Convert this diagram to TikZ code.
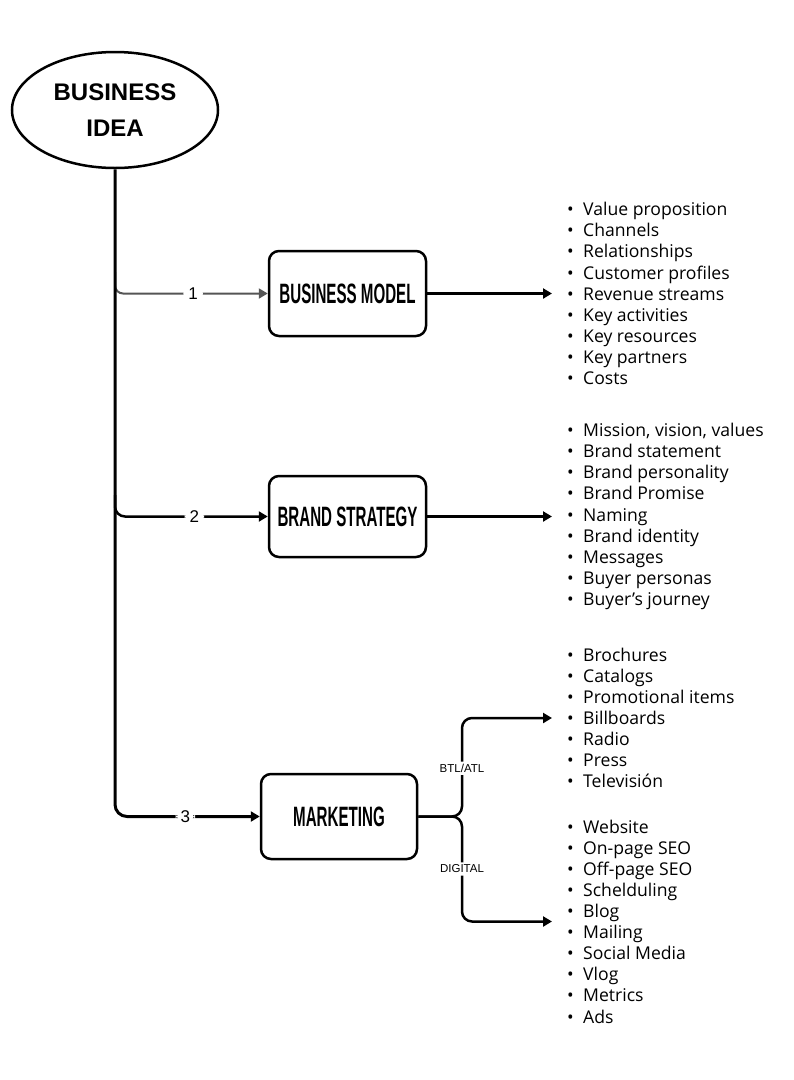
\documentclass[tikz,border=0pt]{standalone}
\usepackage{fontspec}
\setmainfont{Liberation Sans}
\newfontfamily\listfont{Open Sans}
\newfontfamily\boxfont[FakeStretch=0.54]{Liberation Sans}
\usetikzlibrary{arrows.meta,shapes.geometric}
\newcommand\itm[1]{\makebox[16pt][l]{•}#1}
\definecolor{branchgray}{HTML}{555555}
\begin{document}
\begin{tikzpicture}[x=1pt,y=-1pt,
 ideanode/.style={draw, ellipse, line width=2.5pt, minimum width=206pt, minimum height=116pt, inner sep=0pt, align=center, font=\bfseries\fontsize{24}{35.5}\selectfont},
 stagebox/.style={draw, rounded corners=10pt, line width=2.5pt, minimum width=157pt, minimum height=85pt, font=\boxfont\bfseries\fontsize{28}{30}\selectfont},
 bullets/.style={anchor=west, inner sep=0pt, align=left, font=\listfont\fontsize{17.6}{21.1}\selectfont},
 tip/.style={-{Triangle[length=9pt,width=10pt]}},
 link/.style={tip, line width=2.5pt},
 num/.style={fill=white, inner xsep=5pt, inner ysep=1pt, font=\fontsize{17}{17}\selectfont},
 tag/.style={fill=white, inner xsep=1pt, inner ysep=2.5pt, font=\fontsize{11.5}{12}\selectfont}
]
\useasboundingbox[fill=white] (0,0) rectangle (794,1080);

\node[ideanode] (idea) at (115,110) {BUSINESS\\IDEA};

\node[stagebox, minimum height=85pt] (box1) at (347.5,293.5) {BUSINESS MODEL};
\node[stagebox, minimum height=81pt] (box2) at (347.5,516.5) {BRAND STRATEGY};
\node[stagebox, minimum width=156pt] (box3) at (339,816.5) {MARKETING};

\node[bullets] (list1) at (567,293.5) {\itm{Value proposition}\\\itm{Channels}\\\itm{Relationships}\\\itm{Customer profiles}\\\itm{Revenue streams}\\\itm{Key activities}\\\itm{Key resources}\\\itm{Key partners}\\\itm{Costs}};
\node[bullets] (list2) at (567,516.5) {\itm{Mission, vision, values}\\\itm{Brand statement}\\\itm{Brand personality}\\\itm{Brand Promise}\\\itm{Naming}\\\itm{Brand identity}\\\itm{Messages}\\\itm{Buyer personas}\\\itm{Buyer’s journey}};
\node[bullets] (list3) at (567,718) {\itm{Brochures}\\\itm{Catalogs}\\\itm{Promotional items}\\\itm{Billboards}\\\itm{Radio}\\\itm{Press}\\\itm{Televisión}};
\node[bullets] (list4) at (567,921.5) {\itm{Website}\\\itm{On-page SEO}\\\itm{Off-page SEO}\\\itm{Schelduling}\\\itm{Blog}\\\itm{Mailing}\\\itm{Social Media}\\\itm{Vlog}\\\itm{Metrics}\\\itm{Ads}};

\coordinate (j1) at (115,272);
\coordinate (j2) at (115,495);
\coordinate (fork) at (462,816.5);

% branches from the trunk
\draw[tip, draw=branchgray, line width=2pt, rounded corners=8pt] (j1) |- node[num, pos=0.756, text=black] {1} (box1.west);
\draw[link, rounded corners=10pt] (j2) |- node[num, pos=0.76] {2} (box2.west);
\draw[link, line width=3pt, rounded corners=12pt] (idea.south) |- node[num, pos=0.743] {3} (box3.west);

% to the lists
\draw[link, shorten >=15pt] (box1.east) -- (list1.west);
\draw[link, shorten >=15pt] (box2.east) -- (list2.west);
\draw[link, shorten >=15pt, rounded corners=10pt] (box3.east) -- (fork) |- node[tag, pos=0.245] {BTL/ATL} (list3.west);
\draw[link, shorten >=15pt, rounded corners=10pt] (box3.east) -- (fork) |- node[tag, pos=0.25] {DIGITAL} (list4.west);
\end{tikzpicture}
\end{document}
